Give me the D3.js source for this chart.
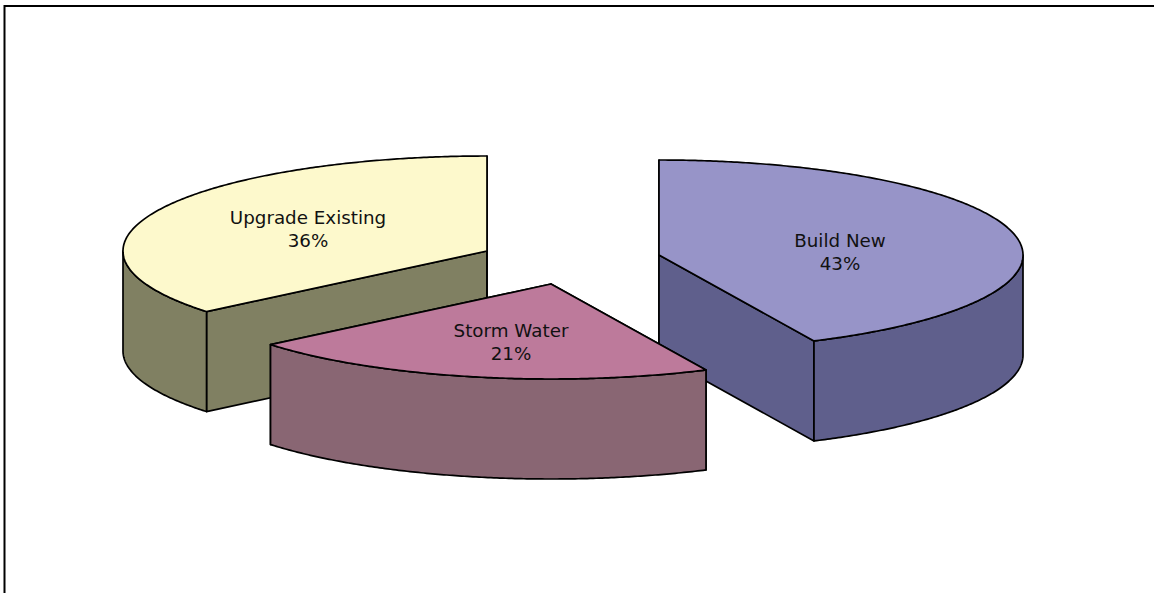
<!DOCTYPE html>
<html>
<head>
<meta charset="utf-8">
<script src="https://cdn.jsdelivr.net/npm/d3@7"></script>
<style>
  html, body { margin: 0; padding: 0; background: #fff; overflow: hidden; }
  svg { display: block; }
  text { font-family: "DejaVu Sans", Verdana, sans-serif; font-size: 18.3px; fill: #111; }
</style>
</head>
<body>
<script>
// Values of the exploded pie, clockwise from twelve o'clock.
const categories = ["Build New", "Storm Water", "Upgrade Existing"];
const shares = [43, 21, 36];
const topColors = ["#9794c8", "#bd7a9b", "#fdf9cc"];
const wallColors = ["#5f5f8c", "#896673", "#808062"];

// Layout of the tilted disc: ellipse radii, wall height and the centre each slice is pulled to.
const width = 1154, height = 593;
const radiusX = 364, radiusY = 95, depth = 100;
const sliceCentres = [[659, 255], [551, 284], [487, 251]];
const labelOffsets = [[181, -8], [-40, 53], [-179, -27]];
const paintOrder = [2, 0, 1];

const svg = d3.select("body").append("svg")
  .attr("width", width).attr("height", height);

// Frame on the left and top edges only.
svg.append("path")
  .attr("d", d3.line()([[4.5, height], [4.5, 6], [width, 6]]))
  .attr("fill", "none").attr("stroke", "#000").attr("stroke-width", 2);

const slices = d3.pie().sort(null).value(d => d)(shares);
const unitX = d3.scaleLinear().domain([-1, 1]).range([-radiusX, radiusX]);
const unitY = d3.scaleLinear().domain([-1, 1]).range([radiusY, -radiusY]);
const rim = a => [unitX(Math.sin(a)), unitY(Math.cos(a))];

function rimPoints(a0, a1, cx, cy) {
  const n = Math.max(2, Math.ceil((a1 - a0) * 120));
  return d3.range(n + 1).map(i => {
    const [x, y] = rim(a0 + (a1 - a0) * i / n);
    return [cx + x, cy + y];
  });
}

const line = d3.line();
const closed = pts => line(pts) + "Z";
const outline = { stroke: "#000", "stroke-width": 1.7, "stroke-linejoin": "round" };
const applyOutline = sel => Object.entries(outline).forEach(([k, v]) => sel.attr(k, v));

paintOrder.forEach(i => {
  const s = slices[i];
  const [cx, cy] = sliceCentres[i];
  const g = svg.append("g").attr("class", "slice");
  const arc = rimPoints(s.startAngle, s.endAngle, cx, cy);
  const drop = pts => pts.map(([x, y]) => [x, y + depth]);

  // Cut faces that turn towards the viewer, then the visible part of the outer wall.
  [s.startAngle, s.endAngle].forEach(a => {
    const [x, y] = rim(a);
    const edge = [[cx, cy], [cx + x, cy + y]];
    g.append("path").attr("d", closed(edge.concat(drop(edge).reverse())))
      .attr("fill", wallColors[i]).call(applyOutline);
  });
  const wallA0 = Math.max(s.startAngle, Math.PI / 2);
  const wallA1 = Math.min(s.endAngle, Math.PI * 1.5);
  if (wallA1 > wallA0) {
    const front = rimPoints(wallA0, wallA1, cx, cy);
    g.append("path").attr("d", closed(front.concat(drop(front).reverse())))
      .attr("fill", wallColors[i]).call(applyOutline);
  }

  // Top surface of the slice.
  g.append("path").attr("d", closed([[cx, cy]].concat(arc)))
    .attr("fill", topColors[i]).call(applyOutline);
});

// Category and percentage labels, kept above every slice.
slices.forEach((s, i) => {
  const [cx, cy] = sliceCentres[i];
  const [dx, dy] = labelOffsets[i];
  const label = svg.append("text").attr("text-anchor", "middle")
    .attr("transform", `translate(${cx + dx},${cy + dy})`);
  label.append("tspan").attr("x", 0).attr("y", 0).text(categories[i]);
  label.append("tspan").attr("x", 0).attr("y", 23).text(s.value + "%");
});
</script>
</body>
</html>
